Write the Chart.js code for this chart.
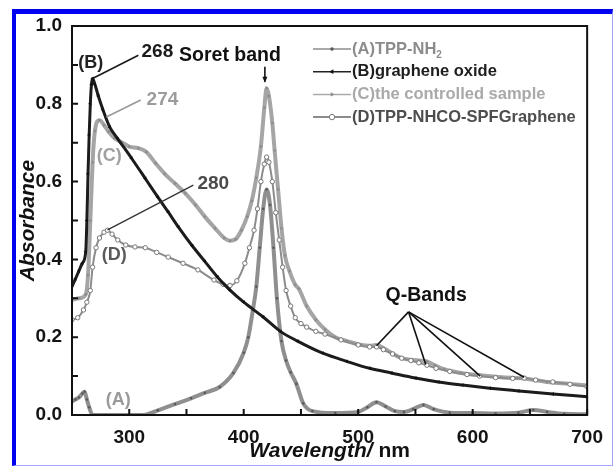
<!doctype html>
<html lang="en">
<head>
<meta charset="UTF-8" />
<title>UV-vis absorbance</title>
<script src="https://cdn.jsdelivr.net/npm/chart.js@4"></script>
<style>
    html, body { margin: 0; padding: 0; background: #fff; }
    #wrap { position: relative; width: 614px; height: 466px; }
    #chart { position: absolute; left: 0; top: 0; }
    #frame {
        position: absolute; left: 12px; top: 9px; width: 601px; height: 457px;
        box-sizing: border-box; pointer-events: none;
        border-left: 4px solid #0000f0; border-top: 5px solid #0000f0;
        border-right: 1px solid #a4a4ff; border-bottom: 1px solid #a4a4ff;
    }
</style>
</head>
<body>
<div id="wrap">
    <canvas id="chart" width="614" height="466"></canvas>
    <div id="frame"></div>
</div>
<script>
// axis ticks
const xTicks = [300, 400, 500, 600, 700];
const xMinor = [350, 450, 550, 650];
const yTicks = [0, 0.2, 0.4, 0.6, 0.8, 1.0];
const yMinor = [0.1, 0.3, 0.5, 0.7, 0.9];

// (A) TPP-NH2
const wlA = [250, 253, 256, 259, 261, 263, 265, 268, 280, 300, 311, 325, 340, 354, 366, 379, 391, 400, 404, 408,
    411, 414, 417, 420, 423, 426, 429, 433, 437, 441, 446, 452, 460, 480, 500, 508, 516, 524, 532, 540,
    548, 557, 566, 580, 600, 620, 640, 653, 665, 680, 700];
const absA = [0.035, 0.04, 0.045, 0.055, 0.06, 0.04, 0.02, 0, 0, 0, 0, 0.012, 0.028, 0.043, 0.057, 0.072, 0.108, 0.16, 0.2, 0.27,
    0.33, 0.43, 0.53, 0.58, 0.54, 0.43, 0.3, 0.19, 0.14, 0.11, 0.08, 0.03, 0.01, 0.005, 0.008, 0.02, 0.033, 0.022, 0.01, 0.008,
    0.015, 0.026, 0.015, 0.006, 0.005, 0.004, 0.006, 0.013, 0.008, 0.003, 0.002];

// (B) graphene oxide
const wlB = [250, 253, 256, 259, 262, 263, 264, 265, 266, 267, 268, 270, 273, 277, 283, 290, 302, 314, 325, 334,
    343, 355, 366, 377, 388, 400, 417, 432, 447, 469, 490, 510, 529, 550, 570, 591, 615, 640, 670, 700];
const absB = [0.33, 0.35, 0.37, 0.39, 0.42, 0.5, 0.62, 0.72, 0.8, 0.85, 0.865, 0.85, 0.82, 0.785, 0.74, 0.71, 0.66, 0.608, 0.56, 0.522,
    0.483, 0.435, 0.395, 0.355, 0.321, 0.29, 0.252, 0.215, 0.19, 0.159, 0.138, 0.12, 0.108, 0.095, 0.085, 0.077, 0.069, 0.062, 0.054, 0.047];

// (C) the controlled sample
const wlC = [250, 256, 262, 264, 266, 268, 270, 274, 278, 282, 287, 294, 300, 308, 315, 323, 331, 340, 349, 358,
    366, 375, 383, 388, 393, 398, 403, 407, 411, 415, 418, 420, 422, 425, 427, 430, 433, 436, 440, 445,
    448, 455, 463, 471, 480, 490, 503, 510, 516, 522, 530, 538, 546, 553, 560, 567, 575, 590, 606, 625,
    645, 665, 685, 700];
const absC = [0.296, 0.3, 0.31, 0.36, 0.5, 0.65, 0.73, 0.758, 0.745, 0.728, 0.712, 0.7, 0.69, 0.686, 0.676, 0.647, 0.62, 0.595, 0.57, 0.54,
    0.51, 0.48, 0.455, 0.448, 0.452, 0.475, 0.51, 0.55, 0.61, 0.69, 0.79, 0.84, 0.82, 0.75, 0.68, 0.58, 0.48, 0.41, 0.37, 0.335,
    0.325, 0.28, 0.245, 0.22, 0.2, 0.19, 0.18, 0.178, 0.18, 0.172, 0.158, 0.146, 0.142, 0.14, 0.138, 0.128, 0.118, 0.108, 0.102, 0.097,
    0.094, 0.085, 0.08, 0.076];

// (D) TPP-NHCO-SPFGraphene
const wlD = [250, 255, 260, 263, 266, 268, 271, 274, 278, 281, 285, 290, 297, 305, 314, 324, 334, 347, 360, 374,
    382, 388, 394, 401, 405, 409, 412, 415, 418, 420, 422, 425, 428, 431, 434, 437, 441, 445, 450, 455,
    463, 471, 485, 500, 510, 516, 522, 530, 538, 546, 553, 560, 568, 580, 595, 606, 620, 635, 645, 655,
    670, 685, 700];
const absD = [0.245, 0.25, 0.27, 0.29, 0.32, 0.38, 0.43, 0.455, 0.47, 0.475, 0.465, 0.45, 0.437, 0.432, 0.43, 0.418, 0.406, 0.39, 0.373, 0.347,
    0.336, 0.333, 0.345, 0.39, 0.43, 0.475, 0.53, 0.6, 0.645, 0.663, 0.65, 0.6, 0.52, 0.45, 0.38, 0.32, 0.28, 0.25, 0.235, 0.226,
    0.215, 0.208, 0.193, 0.18, 0.175, 0.175, 0.168, 0.157, 0.146, 0.14, 0.134, 0.128, 0.12, 0.112, 0.104, 0.1, 0.096, 0.094, 0.095, 0.09,
    0.085, 0.079, 0.073];

const FONT = "'Liberation Sans', Arial, sans-serif";
const pts = (xs, ys) => xs.map((x, i) => ({ x: x, y: ys[i] }));

// frame box plus inward tick marks on the bottom and left axes
const frameTicks = {
    id: 'frameTicks',
    afterDatasetsDraw(chart) {
        const { ctx, chartArea: a, scales: { x, y } } = chart;
        ctx.save();
        ctx.strokeStyle = '#111';
        ctx.lineWidth = 2;
        ctx.strokeRect(a.left, a.top, a.right - a.left, a.bottom - a.top);
        ctx.beginPath();
        xTicks.concat(xMinor).forEach(v => {
            const p = x.getPixelForValue(v);
            ctx.moveTo(p, a.bottom);
            ctx.lineTo(p, a.bottom - 6);
        });
        yTicks.concat(yMinor).forEach(v => {
            const p = y.getPixelForValue(v);
            ctx.moveTo(a.left, p);
            ctx.lineTo(a.left + 6, p);
        });
        ctx.stroke();

        // axis titles
        ctx.fillStyle = '#111';
        ctx.textBaseline = 'middle';
        const cx = (a.left + a.right) / 2;
        ctx.font = 'italic bold 21px ' + FONT;
        const w1 = ctx.measureText('Wavelength/').width;
        ctx.font = 'bold 21px ' + FONT;
        const w2 = ctx.measureText(' nm').width;
        const left = cx - (w1 + w2) / 2;
        ctx.textAlign = 'left';
        ctx.font = 'italic bold 21px ' + FONT;
        ctx.fillText('Wavelength/', left, 451);
        ctx.font = 'bold 21px ' + FONT;
        ctx.fillText(' nm', left + w1, 451);

        ctx.translate(28, (a.top + a.bottom) / 2);
        ctx.rotate(-Math.PI / 2);
        ctx.textAlign = 'center';
        ctx.font = 'italic bold 21px ' + FONT;
        ctx.fillText('Absorbance', 0, 0);
        ctx.restore();
    }
};

// legend: line sample with marker, coloured text
const legendBox = {
    id: 'legendBox',
    afterDraw(chart) {
        const { ctx } = chart;
        ctx.save();
        chart.data.datasets.forEach((ds, i) => {
            const yy = 49 + i * 22.7;
            ctx.strokeStyle = ds.legendLine;
            ctx.lineWidth = 1.5;
            ctx.beginPath();
            ctx.moveTo(313, yy);
            ctx.lineTo(351, yy);
            ctx.stroke();
            ctx.fillStyle = ds.pointBackgroundColor;
            ctx.strokeStyle = ds.pointBorderColor;
            ctx.lineWidth = ds.pointBorderWidth;
            Chart.helpers.drawPoint(ctx, {
                pointStyle: ds.pointStyle,
                rotation: ds.pointRotation || 0,
                radius: ds.pointRadius + 0.5,
                borderWidth: ds.pointBorderWidth
            }, 332, yy);

            ctx.fillStyle = ds.textColor;
            ctx.textBaseline = 'middle';
            ctx.textAlign = 'left';
            ctx.font = 'bold 16.5px ' + FONT;
            ctx.fillText(ds.label, 352, yy);
            if (ds.sub) {
                const w = ctx.measureText(ds.label).width;
                ctx.font = 'bold 10px ' + FONT;
                ctx.fillText(ds.sub, 352 + w, yy + 6);
            }
        });
        ctx.restore();
    }
};

// peak labels and leader lines, placed in data units
const notes = {
    id: 'notes',
    afterDatasetsDraw(chart) {
        const { ctx, scales: { x, y } } = chart;
        const P = (l, v) => [x.getPixelForValue(l), y.getPixelForValue(v)];
        ctx.save();
        const seg = (p, q, color, w) => {
            ctx.strokeStyle = color;
            ctx.lineWidth = w;
            ctx.beginPath();
            ctx.moveTo(p[0], p[1]);
            ctx.lineTo(q[0], q[1]);
            ctx.stroke();
        };
        const label = (t, p, color, size) => {
            ctx.fillStyle = color;
            ctx.font = 'bold ' + size + 'px ' + FONT;
            ctx.textAlign = 'center';
            ctx.textBaseline = 'middle';
            ctx.fillText(t, p[0], p[1]);
        };

        const iB = absB.indexOf(Math.max(...absB));
        seg(P(wlB[iB], absB[iB]), P(308, 0.925), '#1a1a1a', 1.6);
        seg(P(280, 0.766), P(310, 0.81), '#9a9a9a', 1.6);
        seg(P(281, 0.476), P(356, 0.591), '#333', 1.3);

        label('(B)', P(266.3, 0.905), '#222', 18);
        label('268', P(324.6, 0.935), '#1a1a1a', 19);
        label('Soret band', P(388, 0.925), '#111', 19.5);
        label('274', P(329, 0.81), '#9c9c9c', 19);
        label('(C)', P(282.6, 0.666), '#a0a0a0', 18);
        label('280', P(373.4, 0.594), '#4a4a4a', 19);
        label('(D)', P(286.9, 0.411), '#5a5a5a', 18);
        label('(A)', P(290.3, 0.039), '#9a9a9a', 18);
        label('Q-Bands', P(559.4, 0.306), '#111', 19.5);

        // Soret arrow
        const a0 = P(418.5, 0.895), a1 = P(418.5, 0.857);
        seg(a0, a1, '#111', 1.6);
        ctx.fillStyle = '#111';
        ctx.beginPath();
        ctx.moveTo(a1[0], a1[1] + 1);
        ctx.lineTo(a1[0] - 2.5, a1[1] - 5);
        ctx.lineTo(a1[0] + 2.5, a1[1] - 5);
        ctx.closePath();
        ctx.fill();

        // Q-band leaders
        const apex = P(544, 0.265);
        [[516, 0.178], [559, 0.13], [606.6, 0.1], [645, 0.097]].forEach(t => seg(apex, P(t[0], t[1]), '#111', 1.6));
        ctx.restore();
    }
};

new Chart(document.getElementById('chart'), {
    type: 'line',
    data: {
        datasets: [
            {
                label: '(A)TPP-NH', sub: '2', textColor: '#8c8c8c', legendLine: '#8c8c8c',
                data: pts(wlA, absA), order: 2,
                borderColor: '#8f8f8f', borderWidth: 4,
                pointStyle: 'circle', pointRadius: 1.3,
                pointBackgroundColor: '#5a5a5a', pointBorderColor: '#5a5a5a', pointBorderWidth: 0
            },
            {
                label: '(B)graphene oxide', textColor: '#1e1e1e', legendLine: '#222',
                data: pts(wlB, absB), order: 0,
                borderColor: '#1c1c1c', borderWidth: 3,
                pointStyle: 'triangle', pointRotation: -90, pointRadius: 2.2,
                pointBackgroundColor: '#111', pointBorderColor: '#111', pointBorderWidth: 0
            },
            {
                label: '(C)the controlled sample', textColor: '#a9a9a9', legendLine: '#aaa',
                data: pts(wlC, absC), order: 3,
                borderColor: '#a5a5a5', borderWidth: 4,
                pointStyle: 'triangle', pointRotation: 90, pointRadius: 2,
                pointBackgroundColor: '#8a8a8a', pointBorderColor: '#8a8a8a', pointBorderWidth: 0
            },
            {
                label: '(D)TPP-NHCO-SPFGraphene', textColor: '#4d4d4d', legendLine: '#666',
                data: pts(wlD, absD), order: 1,
                borderColor: '#8c8c8c', borderWidth: 2,
                pointStyle: 'circle', pointRadius: 2.2,
                pointBackgroundColor: '#fff', pointBorderColor: '#777', pointBorderWidth: 1
            }
        ]
    },
    options: {
        responsive: false,
        animation: false,
        events: [],
        cubicInterpolationMode: 'monotone',
        layout: { padding: { left: 0, top: 26, right: 17, bottom: 0 } },
        plugins: { legend: { display: false }, tooltip: { enabled: false } },
        scales: {
            x: {
                type: 'linear', min: 250, max: 700,
                grid: { display: false, drawTicks: false },
                border: { display: false },
                afterBuildTicks: s => { s.ticks = xTicks.map(v => ({ value: v })); },
                afterFit: s => { s.height = 51; },
                ticks: {
                    autoSkip: false, maxRotation: 0, padding: 11,
                    color: '#141414', font: { family: FONT, size: 19, weight: 'bold' },
                    callback: v => String(v)
                }
            },
            y: {
                type: 'linear', min: 0, max: 1,
                grid: { display: false, drawTicks: false },
                border: { display: false },
                afterBuildTicks: s => { s.ticks = yTicks.map(v => ({ value: v })); },
                afterFit: s => { s.width = 72; },
                ticks: {
                    autoSkip: false, padding: 10,
                    color: '#141414', font: { family: FONT, size: 19, weight: 'bold' },
                    callback: v => v.toFixed(1)
                }
            }
        }
    },
    plugins: [frameTicks, notes, legendBox]
});
</script>
</body>
</html>
